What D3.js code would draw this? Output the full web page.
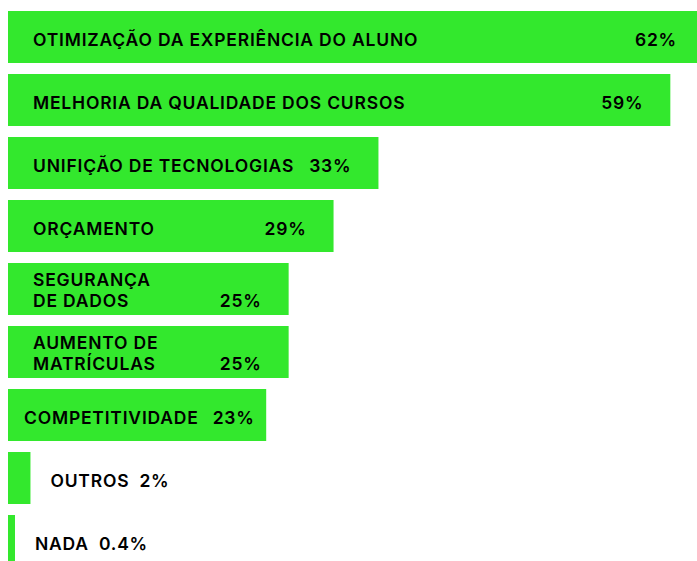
<!DOCTYPE html>
<html>
<head>
<meta charset="utf-8">
<script src="https://cdn.jsdelivr.net/npm/d3@7"></script>
<style>
  html, body { margin: 0; padding: 0; background: #ffffff; }
  svg { display: block; }
  text { font-family: Inter, "Noto Sans", sans-serif; font-weight: 600; fill: #000; letter-spacing: 0.8px; }
</style>
</head>
<body>
<svg id="chart" width="697" height="561"></svg>
<script>
// Data
const categories = [
  ["OTIMIZAÇÃO DA EXPERIÊNCIA DO ALUNO"],
  ["MELHORIA DA QUALIDADE DOS CURSOS"],
  ["UNIFIÇÃO DE TECNOLOGIAS"],
  ["ORÇAMENTO"],
  ["SEGURANÇA", "DE DADOS"],
  ["AUMENTO DE", "MATRÍCULAS"],
  ["COMPETITIVIDADE"],
  ["OUTROS"],
  ["NADA"]
];
const values = [62, 59, 33, 29, 25, 25, 23, 2, 0.4];
const valueLabels = ["62%", "59%", "33%", "29%", "25%", "25%", "23%", "2%", "0.4%"];

const W = 697, H = 561;
const svg = d3.select("#chart");
const green = "#33e82d";
const fontSize = 17.5;

const x = d3.scaleLinear().domain([0, 62]).range([8, 704]);
const y = d3.scaleBand().domain(d3.range(values.length))
  .range([11, 11 + 63 * values.length - 11]).paddingInner(11 / 63).paddingOuter(0);

const rows = svg.selectAll("g.row").data(values.map((v, i) => ({v, i, lines: categories[i], lab: valueLabels[i]})))
  .enter().append("g").attr("class", "row");

rows.append("rect")
  .attr("x", x(0))
  .attr("y", d => y(d.i))
  .attr("height", y.bandwidth())
  .attr("width", d => Math.max(7, x(d.v) - x(0)))
  .attr("fill", green);

rows.each(function(d) {
  const g = d3.select(this);
  const cy = y(d.i) + y.bandwidth() / 2;
  const barEnd = x(0) + Math.max(7, x(d.v) - x(0));
  const small = d.v < 5;
  let labelX;
  if (small) labelX = barEnd + 20;
  else if (d.lines[0].length > 14 && d.v < 30) labelX = 24;
  else labelX = 33;

  const t = g.append("text").attr("x", labelX).attr("font-size", fontSize);
  if (d.lines.length === 1) {
    t.append("tspan").attr("x", labelX).attr("y", cy + 9).text(d.lines[0]);
  } else {
    t.append("tspan").attr("x", labelX).attr("y", cy - 3).text(d.lines[0]);
    t.append("tspan").attr("x", labelX).attr("y", cy + 18).text(d.lines[1]);
  }
  const labelW = d3.max(t.selectAll("tspan").nodes(), n => n.getComputedTextLength());
  const labelEnd = labelX + labelW;

  const vt = g.append("text").attr("font-size", fontSize).attr("y", cy + 9 + (d.lines.length > 1 ? 9 : 0)).text(d.lab);
  const vw = vt.node().getComputedTextLength();
  let vx;
  if (small) vx = labelEnd + 10;
  else vx = Math.max(labelEnd + 14, barEnd - 27 - vw);
  vt.attr("x", vx);
});
</script>
</body>
</html>
